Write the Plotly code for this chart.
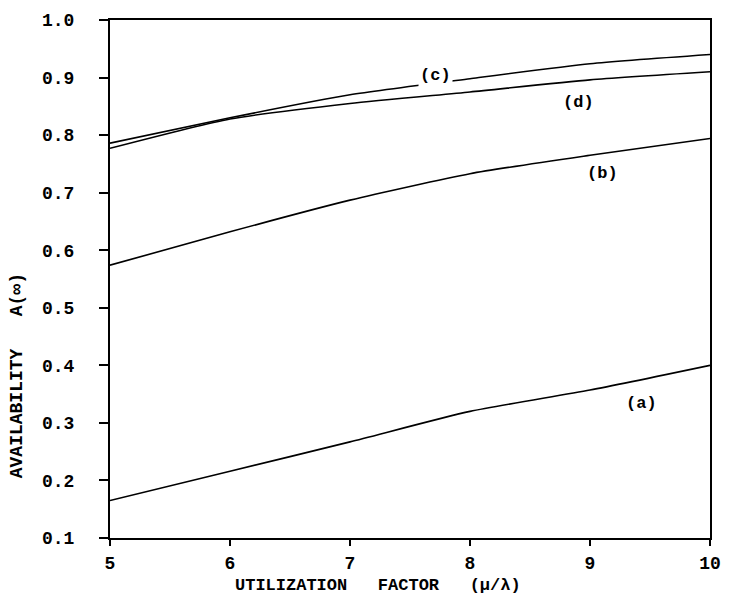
import plotly.graph_objects as go

x_vals = [5, 6, 7, 8, 9, 10]
curve_a = [0.165, 0.216, 0.267, 0.320, 0.357, 0.400]
curve_b = [0.574, 0.632, 0.687, 0.733, 0.765, 0.794]
curve_c = [0.786, 0.830, 0.870, 0.898, 0.924, 0.940]
curve_d = [0.777, 0.828, 0.855, 0.875, 0.896, 0.910]

y_ticks = [0.1, 0.2, 0.3, 0.4, 0.5, 0.6, 0.7, 0.8, 0.9, 1.0]
y_tick_labels = ["0.1", "0.2", "0.3", "0.4", "0.5", "0.6", "0.7", "0.8", "0.9", "1.0"]
x_ticks = [5, 6, 7, 8, 9, 10]
x_tick_labels = ["5", "6", "7", "8", "9", "10"]

curve_labels = ["(a)", "(b)", "(c)", "(d)"]
label_x = [9.43, 9.1, 7.71, 8.9]
label_y = [0.334, 0.734, 0.904, 0.857]

FONT = "Liberation Mono"

fig = go.Figure()
for name, ys in [("a", curve_a), ("b", curve_b), ("c", curve_c), ("d", curve_d)]:
    fig.add_trace(go.Scatter(
        x=x_vals, y=ys, mode="lines", name=name,
        line=dict(color="black", width=1.6, shape="spline", smoothing=0.6),
        showlegend=False, hoverinfo="skip",
    ))

for t, lx, ly in zip(curve_labels, label_x, label_y):
    fig.add_annotation(
        x=lx, y=ly, xref="x", yref="y", text="<b>%s</b>" % t, showarrow=False,
        font=dict(family=FONT, size=17, color="black"),
        bgcolor="white" if t == "(c)" else "rgba(0,0,0,0)",
    )

fig.add_annotation(
    x=-0.155, y=0.381, xref="paper", yref="y", xanchor="center", yanchor="middle",
    text="<b>AVAILABILITY   A(\u221e)</b>", textangle=-90, showarrow=False,
    font=dict(family=FONT, size=18, color="black"),
)
fig.add_annotation(
    x=7.23, y=-0.091, xref="x", yref="paper", xanchor="center", yanchor="middle",
    text="<b>UTILIZATION   FACTOR   (\u03bc/\u03bb)</b>", showarrow=False,
    font=dict(family=FONT, size=17, color="black"),
)

fig.update_layout(
    width=724, height=595,
    margin=dict(l=102, r=22, t=12, b=65),
    paper_bgcolor="white", plot_bgcolor="white",
)
fig.update_xaxes(
    range=[5, 10], tickvals=x_ticks, ticktext=x_tick_labels,
    showline=True, linecolor="black", linewidth=2, mirror=True,
    ticks="outside", ticklen=6, tickwidth=1.5, tickcolor="black",
    showgrid=False, zeroline=False, automargin=False,
    tickfont=dict(family=FONT, size=18, color="black", weight="bold"),
    ticklabelstandoff=1,
)
fig.update_yaxes(
    range=[0.1, 1.0], tickvals=y_ticks, ticktext=y_tick_labels,
    showline=True, linecolor="black", linewidth=2, mirror=True,
    ticks="outside", ticklen=9, tickwidth=1.5, tickcolor="black",
    showgrid=False, zeroline=False, automargin=False,
    tickfont=dict(family=FONT, size=18, color="black", weight="bold"),
    ticklabelstandoff=21,
)

fig.write_html("out.html")
